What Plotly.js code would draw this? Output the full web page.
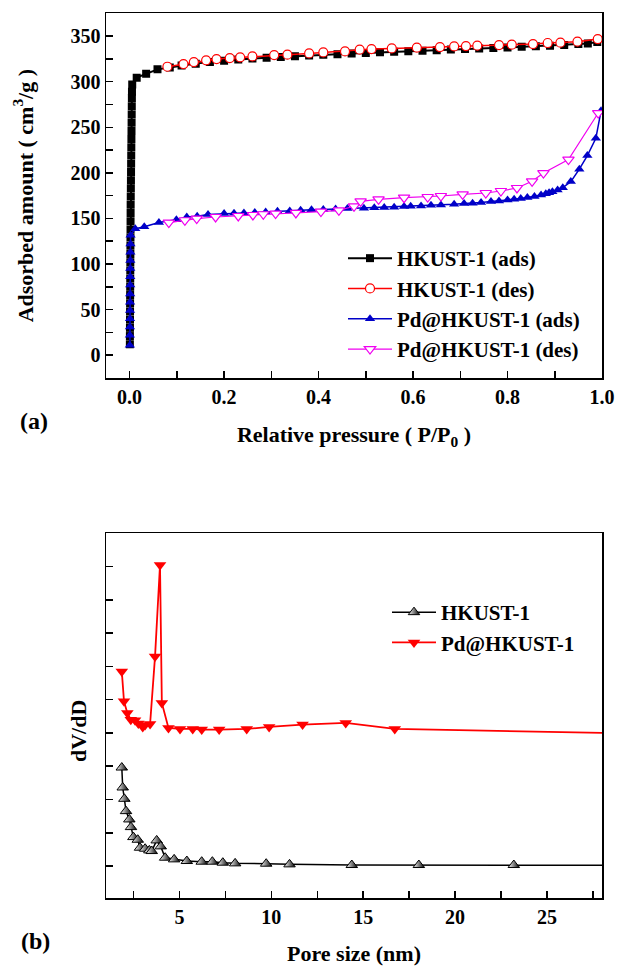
<!DOCTYPE html>
<html>
<head>
<meta charset="utf-8">
<script src="https://cdn.plot.ly/plotly-3.0.1.min.js"></script>
<style>html,body{margin:0;padding:0;background:#fff;}#chart{width:617px;height:966px;}</style>
</head>
<body>
<div id="chart"></div>
<script>
// ---- (a) N2 isotherms ----
const hkAdsX = [0.0005,0.0006,0.0007,0.0008,0.0009,0.001,0.0011,0.0012,0.0013,0.0014,0.0015,0.0016,0.0017,0.0018,0.0019,0.002,0.0021,0.0022,0.0024,0.0026,0.0028,0.003,0.0032,0.0034,0.0036,0.0038,0.004,0.0042,0.0044,0.0046,0.0048,0.005,0.0055,0.015,0.035,0.059,0.085,0.11,0.14,0.17,0.2,0.23,0.26,0.29,0.32,0.35,0.38,0.41,0.44,0.47,0.5,0.53,0.56,0.59,0.62,0.65,0.68,0.71,0.74,0.77,0.8,0.83,0.86,0.89,0.92,0.95,0.97,0.99];
const hkAdsY = [12,21,30,39,48,57,66,75,84,93,102,111,120,129,138,147,156,165,174,183,192,201,210,219,228,237,246,255,264,273,282,289,297,304.4,308.8,313.5,315.5,317.8,319.8,321.5,323,324.2,325.3,326.3,327.2,328,328.8,329.5,330.2,330.9,331.5,332.2,332.8,333.4,334,334.6,335.2,335.8,336.4,337,337.6,338.2,338.8,339.5,340.3,341.2,342,343.5];
const hkDesX = [0.08,0.114,0.136,0.162,0.184,0.212,0.234,0.26,0.306,0.334,0.38,0.41,0.456,0.487,0.512,0.555,0.608,0.657,0.687,0.712,0.736,0.782,0.809,0.854,0.885,0.912,0.948,0.991];
const hkDesY = [316.4,319.3,321.5,323.4,324.8,325.9,326.7,327.7,329.2,329.6,331,332.1,333.2,335.1,335.8,336.5,337.3,338,338.7,339.1,339.5,340.2,340.6,341.3,342.4,342.8,343.9,346.7];
const pdAdsX = [0.0005,0.0006,0.0007,0.0008,0.0009,0.001,0.0011,0.0012,0.0013,0.0014,0.0015,0.0016,0.0018,0.002,0.012,0.031,0.062,0.099,0.121,0.143,0.166,0.2,0.221,0.242,0.265,0.288,0.313,0.339,0.362,0.385,0.41,0.436,0.461,0.496,0.518,0.539,0.56,0.581,0.595,0.617,0.638,0.659,0.687,0.708,0.726,0.744,0.765,0.782,0.8,0.814,0.828,0.842,0.857,0.871,0.881,0.888,0.895,0.906,0.917,0.934,0.952,0.969,0.987,0.998];
const pdAdsY = [11,22,31,40,49,58,67,77,86,95,104,113,122,131.5,138.8,141,145.5,148.7,151.6,152.4,154.2,155.3,155.6,156,156.4,157.1,157.8,158.2,158.9,159.5,159.9,160.4,161,161.3,161.6,161.9,162.4,163,163.3,163.7,164.4,164.8,165.5,166.3,166.6,167.4,168.5,169.2,170.3,171,171.8,172.9,174,175.7,177.2,178.3,179.4,181.2,183.8,190.4,204,219,238,268];
const pdDesX = [0.083,0.117,0.142,0.182,0.23,0.261,0.283,0.309,0.352,0.405,0.443,0.475,0.489,0.527,0.581,0.631,0.659,0.705,0.754,0.786,0.82,0.852,0.876,0.929,0.992];
const pdDesY = [145.4,148,149.8,151.6,152.7,153.8,154.6,155.3,156,157.5,158.9,163.3,168.8,171,172.8,173.5,174.6,176.5,177.9,180.1,183.4,190.7,199.8,214.5,265.6];

// ---- (b) pore size distribution (offset, arbitrary units) ----
const hkPoreX = [1.86,1.91,2.0,2.09,2.27,2.36,2.49,2.73,2.85,3.13,3.36,3.49,3.76,3.98,4.22,4.71,5.4,6.21,6.79,7.36,8.03,9.72,10.99,14.38,18.03,23.2,30];
const hkPoreY = [2.96,2.36,2.02,1.65,1.4,1.17,0.87,0.79,0.55,0.52,0.47,0.45,0.77,0.59,0.25,0.2,0.15,0.13,0.13,0.1,0.08,0.07,0.05,0.03,0.03,0.03,0.02];
const pdPoreX = [1.86,1.98,2.16,2.35,2.58,2.76,3.0,3.13,3.4,3.67,3.94,4.04,4.4,5.03,5.72,6.21,7.16,8.66,9.88,11.7,14.05,16.72,30];
const pdPoreY = [5.85,4.95,4.6,4.4,4.38,4.28,4.18,4.24,4.27,6.3,9.05,4.9,4.15,4.12,4.12,4.1,4.1,4.12,4.18,4.25,4.3,4.12,3.98];

const W = 617, H = 966;
const px = v => v / W;
const py = v => 1 - v / H;
const FONT = 'Liberation Serif';
const f = (size) => ({family: FONT, size: size, color: '#000', weight: 700});
const b = s => '<b>' + s + '</b>';

const traces = [
  {x: hkAdsX, y: hkAdsY, name: b('HKUST-1 (ads)'), type: 'scatter', mode: 'lines+markers',
   line: {color: '#000000', width: 2}, marker: {symbol: 'square', size: 8, color: '#000000'},
   xaxis: 'x', yaxis: 'y', legend: 'legend'},
  {x: hkDesX, y: hkDesY, name: b('HKUST-1 (des)'), type: 'scatter', mode: 'lines+markers',
   line: {color: '#ff0000', width: 1.5}, marker: {symbol: 'circle', size: 9, color: '#ffffff', line: {color: '#ff0000', width: 1.2}},
   xaxis: 'x', yaxis: 'y', legend: 'legend'},
  {x: pdAdsX, y: pdAdsY, name: b('Pd@HKUST-1 (ads)'), type: 'scatter', mode: 'lines+markers',
   line: {color: '#0000c8', width: 1.5}, marker: {symbol: 'triangle-up', size: 9, color: '#0000c8'},
   xaxis: 'x', yaxis: 'y', legend: 'legend'},
  {x: pdDesX, y: pdDesY, name: b('Pd@HKUST-1 (des)'), type: 'scatter', mode: 'lines+markers',
   line: {color: '#f000f0', width: 1.2}, marker: {symbol: 'triangle-down', size: 10, color: '#ffffff', line: {color: '#f000f0', width: 1.2}},
   xaxis: 'x', yaxis: 'y', legend: 'legend'},
  {x: hkPoreX, y: hkPoreY, name: b('HKUST-1'), type: 'scatter', mode: 'lines+markers',
   line: {color: '#000000', width: 1.5},
   marker: {symbol: 'triangle-up', size: 10, color: '#ffffff', line: {color: '#000000', width: 1}, gradient: {type: 'horizontal', color: '#000000'}},
   xaxis: 'x2', yaxis: 'y2', legend: 'legend2'},
  {x: pdPoreX, y: pdPoreY, name: b('Pd@HKUST-1'), type: 'scatter', mode: 'lines+markers',
   line: {color: '#ff0000', width: 1.8}, marker: {symbol: 'triangle-down', size: 11, color: '#ff0000'},
   xaxis: 'x2', yaxis: 'y2', legend: 'legend2'}
];

const axBase = {
  showline: true, linecolor: '#000', linewidth: 1.5, mirror: true,
  showgrid: false, zeroline: false,
  ticks: 'inside', ticklen: 7, tickwidth: 1.5, tickcolor: '#000',
  tickfont: f(20), tickprefix: '<b>', ticksuffix: '</b>'
};

const layout = {
  width: W, height: H,
  margin: {l: 0, r: 0, t: 0, b: 0},
  paper_bgcolor: '#fff', plot_bgcolor: '#fff',
  font: {family: FONT, color: '#000', weight: 700},
  showlegend: true,
  xaxis: Object.assign({}, axBase, {
    domain: [px(106), px(602)], anchor: 'y', range: [-0.05, 1.0],
    tick0: 0, dtick: 0.2, tickformat: '.1f',
    minor: {ticks: 'inside', tick0: 0, dtick: 0.1, ticklen: 7, tickwidth: 1.5, tickcolor: '#000'},
    title: {text: b('Relative pressure ( P/P<sub>0</sub> )'), standoff: 20, font: f(22)}
  }),
  yaxis: Object.assign({}, axBase, {
    domain: [py(378), py(13.3)], anchor: 'x', range: [-25, 375],
    tick0: 0, dtick: 50,
    minor: {ticks: 'inside', tick0: 0, dtick: 25, ticklen: 7, tickwidth: 1.5, tickcolor: '#000'},
    title: {text: b('Adsorbed amount ( cm<sup>3</sup>/g )'), standoff: 31, font: f(22)}
  }),
  xaxis2: Object.assign({}, axBase, {
    domain: [px(106), px(602)], anchor: 'y2', range: [1, 28],
    tick0: 0, dtick: 5,
    minor: {ticks: 'inside', tick0: 0, dtick: 2.5, ticklen: 7, tickwidth: 1.5, tickcolor: '#000'},
    title: {text: b('Pore size (nm)'), standoff: 22, font: f(22)}
  }),
  yaxis2: Object.assign({}, axBase, {
    domain: [py(898.3), py(533.3)], anchor: 'x2', range: [-0.97, 10],
    tick0: 0, dtick: 1, showticklabels: false
  }),
  legend: {
    x: px(343), y: py(238), xanchor: 'left', yanchor: 'top',
    bgcolor: 'rgba(0,0,0,0)', borderwidth: 0, itemwidth: 44, tracegroupgap: 0,
    font: f(21)
  },
  legend2: {
    x: px(387), y: py(592), xanchor: 'left', yanchor: 'top',
    bgcolor: 'rgba(0,0,0,0)', borderwidth: 0, itemwidth: 44, tracegroupgap: 0,
    font: f(21)
  },
  annotations: [
    {text: b('(a)'), xref: 'paper', yref: 'paper', x: px(34), y: py(421), xanchor: 'center', yanchor: 'middle', showarrow: false, font: f(24)},
    {text: b('(b)'), xref: 'paper', yref: 'paper', x: px(35), y: py(941), xanchor: 'center', yanchor: 'middle', showarrow: false, font: f(24)},
    {text: b('dV/dD'), xref: 'paper', yref: 'paper', x: px(78), y: py(731), xanchor: 'center', yanchor: 'middle', showarrow: false, textangle: -90, font: f(22)}
  ]
};

Plotly.newPlot('chart', traces, layout, {displayModeBar: false, staticPlot: true});
</script>
</body>
</html>
